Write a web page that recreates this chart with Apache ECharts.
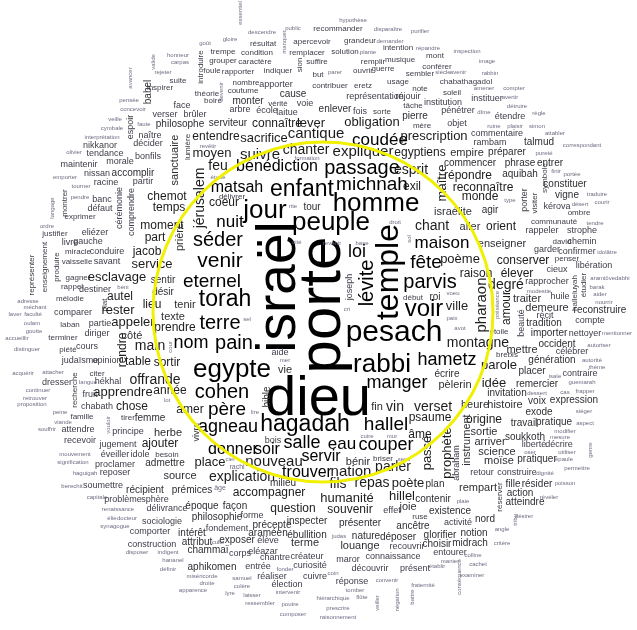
<!DOCTYPE html>
<html>
<head>
    <meta charset="UTF-8">
    <title>nuage de mots</title>
    <script src="https://cdn.jsdelivr.net/npm/echarts@6/dist/echarts.min.js"></script>
    <style>
        html, body { margin: 0; padding: 0; background: #fff; }
        #cloud { width: 637px; height: 630px; }
    </style>
</head>
<body>
<div id="cloud"></div>
<script type="text/javascript">
var centerWords = [
    ['israël', 280, 287, 55], ['porte', 323, 305, 60], ['dieu', 318, 400, 56],
    ['peuple', 331, 223, 26], ['homme', 376, 204, 26], ['jour', 265, 211, 26],
    ['enfant', 302, 190, 23], ['pesach', 394, 333, 30], ['temple', 389, 272, 32],
    ['rabbi', 382, 365, 26], ['egypte', 232, 370, 26], ['hagadah', 305, 425, 23],
    ['séder', 218, 240, 20], ['venir', 220, 261, 21], ['eternel', 212, 282, 19],
    ['torah', 225, 300, 23], ['terre', 220, 323, 20], ['nom', 191, 343, 18],
    ['pain', 234, 343, 20], ['cohen', 222, 392, 20], ['père', 227, 410, 19],
    ['nuit', 230, 222, 17], ['cité', 297, 242, 6], ['sel', 247, 319, 6],
    ['aide', 280, 353, 9], ['mer', 285, 360, 6], ['vie', 285, 370, 11],
    ['bible', 267, 397, 10], ['lire', 255, 412, 6], ['prière', 180, 237, 11],
    ['droit', 395, 222, 6], ['chant', 432, 226, 14], ['revenir', 332, 243, 6],
    ['base', 362, 243, 6], ['sol', 409, 239, 6], ['maison', 442, 243, 17],
    ['loi', 357, 252, 18], ['lévite', 367, 283, 20], ['joseph', 350, 287, 9],
    ['cri', 347, 309, 6], ['fête', 426, 263, 19], ['poème', 460, 259, 13],
    ['parvis', 430, 282, 20], ['début', 413, 298, 8], ['roi', 435, 297, 10],
    ['voeu', 453, 293, 6], ['voir', 424, 309, 24], ['ville', 457, 306, 13],
    ['paix', 452, 318, 6], ['avot', 460, 328, 6], ['hametz', 447, 360, 18],
    ['écrire', 447, 374, 10], ['manger', 397, 383, 18], ['pèlerin', 455, 385, 11],
    ['fin', 377, 407, 11], ['vin', 395, 407, 14], ['verset', 433, 407, 14],
    ['psaume', 430, 418, 12], ['hallel', 386, 425, 19]
];

var upperWords = [
    ['essentiel', 240, 13, 6], ['hypothèse', 353, 20, 6], ['descendre', 262, 32, 6],
    ['public', 293, 28, 6], ['recommander', 338, 29, 8], ['disparaître', 388, 29, 6],
    ['purifier', 420, 31, 6], ['gloire', 230, 39, 6], ['goût', 205, 43, 6],
    ['résultat', 263, 44, 8], ['manquer', 284, 42, 6], ['apercevoir', 312, 42, 8],
    ['grandeur', 360, 41, 8], ['demander', 390, 41, 6], ['honneur', 178, 55, 6],
    ['trempe', 223, 52, 8], ['condition', 257, 53, 8], ['remplacer', 307, 53, 8],
    ['solution', 345, 52, 8], ['plante', 368, 52, 6], ['intention', 398, 48, 8],
    ['répandre', 428, 48, 6], ['inspection', 467, 51, 6], ['carpas', 180, 62, 6],
    ['introduire', 201, 67, 8], ['grouper', 223, 61, 8], ['caractère', 255, 62, 8],
    ['sion', 300, 65, 8], ['suffire', 317, 62, 8], ['remplir', 373, 62, 8],
    ['musique', 400, 60, 8], ['mont', 435, 56, 8], ['conférer', 437, 67, 8],
    ['image', 487, 61, 6], ['rejeter', 163, 72, 6], ['foule', 212, 71, 8],
    ['rapporter', 238, 72, 8], ['indiquer', 278, 71, 8], ['but', 318, 75, 8],
    ['parer', 335, 72, 6], ['ouvrir', 363, 71, 8], ['guerre', 383, 69, 8],
    ['sembler', 420, 74, 8], ['siècle', 443, 72, 6], ['avenir', 458, 72, 6],
    ['rabbin', 490, 73, 6], ['suite', 178, 81, 8], ['nombre', 246, 83, 8],
    ['apporter', 276, 85, 9], ['contribuer', 330, 86, 8], ['eretz', 363, 86, 8],
    ['usage', 398, 82, 8], ['note', 420, 89, 8], ['chabathagadol', 466, 82, 8],
    ['compter', 514, 88, 6], ['amener', 484, 88, 6], ['inspirer', 160, 88, 8],
    ['théorie', 207, 94, 8], ['devenir', 221, 92, 6], ['coutume', 243, 91, 8],
    ['cause', 293, 94, 10], ['représentation', 375, 97, 9], ['réjouir', 408, 97, 9],
    ['soleil', 452, 93, 8], ['instituer', 487, 99, 9], ['avertir', 510, 97, 6],
    ['boire', 213, 101, 8], ['monter', 248, 101, 10], ['vérité', 278, 104, 8],
    ['voie', 305, 104, 9], ['institution', 443, 103, 9], ['détruire', 517, 106, 6],
    ['face', 182, 106, 9], ['arbre', 240, 110, 9], ['école', 267, 111, 9],
    ['laitue', 287, 113, 9], ['enlever', 335, 109, 10], ['fois', 360, 112, 9],
    ['sorte', 382, 112, 8], ['tâche', 413, 106, 8], ['pierre', 415, 116, 10],
    ['pénétrer', 458, 111, 9], ['dîme', 484, 112, 6], ['étendre', 510, 117, 9],
    ['règle', 539, 113, 6], ['verser', 165, 115, 9], ['brûler', 195, 115, 9],
    ['philosophe', 180, 124, 10], ['serviteur', 228, 123, 10], ['connaître', 277, 124, 12],
    ['lever', 311, 123, 13], ['obligation', 372, 122, 13], ['mère', 422, 126, 8],
    ['objet', 457, 124, 9], ['ruine', 494, 126, 6], ['plaisir', 515, 126, 6],
    ['simon', 537, 126, 6],
    ['sanctuaire', 175, 160, 11], ['lumière', 188, 147, 8], ['entendre', 216, 137, 12],
    ['sacrifice', 264, 138, 13], ['cantique', 316, 134, 15], ['revêtir', 208, 146, 6],
    ['moyen', 212, 153, 13], ['suivre', 260, 155, 15], ['chanter', 306, 150, 14],
    ['formation', 307, 158, 6], ['jérusalem', 200, 198, 14], ['feu', 218, 166, 14],
    ['bénédiction', 277, 167, 16], ['étude', 218, 177, 6], ['matsah', 237, 188, 16],
    ['délivrer', 232, 197, 8], ['coeur', 224, 203, 12], ['rite', 293, 206, 6],
    ['tour', 312, 207, 10], ['chemot', 167, 197, 12], ['temps', 169, 208, 12]
];

var upperRightWords = [
    ['coudée', 380, 140, 17], ['prescription', 434, 136, 13], ['expliquer', 363, 152, 15],
    ['egyptiens', 420, 153, 12], ['empire', 467, 153, 11], ['préparer', 507, 152, 10],
    ['commentaire', 497, 134, 9], ['rambam', 490, 143, 9], ['talmud', 539, 142, 10],
    ['attabler', 555, 133, 6], ['correspondant', 582, 145, 6], ['pureté', 544, 153, 6],
    ['passage', 362, 168, 20], ['esprit', 411, 170, 14], ['commencer', 470, 163, 10],
    ['phrase', 520, 163, 10], ['entrer', 550, 163, 10], ['michnah', 372, 185, 19],
    ['exil', 412, 187, 12], ['maître', 442, 183, 13], ['répondre', 468, 176, 12],
    ['aquibah', 520, 174, 10], ['symbole', 545, 178, 8], ['finir', 556, 171, 6],
    ['portée', 572, 174, 6], ['reconnaître', 483, 188, 12], ['constituer', 565, 184, 10],
    ['monde', 480, 197, 12], ['type', 510, 200, 6], ['porter', 525, 200, 9],
    ['visiter', 535, 203, 8], ['vigne', 567, 195, 10], ['traduire', 597, 194, 6],
    ['désert', 580, 204, 6], ['courir', 602, 202, 6], ['kérova', 557, 207, 9],
    ['israélite', 453, 212, 11], ['agir', 490, 210, 10]
];

var upperLeftWords = [
    ['avancer', 130, 78, 6], ['valide', 153, 62, 6], ['pensée', 129, 100, 6],
    ['babel', 148, 92, 10], ['concevoir', 133, 109, 6], ['espoir', 131, 127, 9],
    ['veille', 115, 119, 6], ['faute', 144, 124, 6], ['cymbale', 112, 128, 6],
    ['interprétation', 102, 137, 6], ['naître', 150, 136, 9], ['décider', 148, 144, 9],
    ['nikkanor', 100, 146, 9], ['olivier', 74, 152, 6], ['tendance', 105, 154, 9],
    ['bonfils', 148, 157, 9], ['morale', 120, 162, 9], ['maintenir', 79, 165, 9],
    ['emporter', 65, 177, 6], ['nissan', 97, 174, 9], ['accomplir', 133, 173, 10],
    ['partir', 143, 182, 9], ['racine', 106, 183, 9], ['tourner', 81, 186, 6],
    ['montrer', 65, 203, 8], ['pendre', 80, 197, 6], ['banc', 102, 200, 9],
    ['défaut', 100, 209, 9], ['cérémonie', 120, 208, 9], ['comprendre', 132, 212, 9],
    ['langage', 52, 208, 6]
];

var rightWords = [
    ['aller', 470, 227, 11], ['orient', 501, 227, 12], ['communauté', 554, 222, 8],
    ['ombre', 579, 213, 8], ['tendre', 595, 223, 6], ['rappeler', 542, 231, 9],
    ['strophe', 582, 231, 9], ['enseigner', 502, 244, 11], ['david', 562, 242, 8],
    ['chemin', 582, 242, 9], ['garder', 547, 250, 9], ['confirmer', 577, 252, 9],
    ['idolâtre', 607, 252, 6], ['conserver', 523, 261, 12], ['penser', 567, 259, 8],
    ['libération', 594, 266, 9], ['cieux', 557, 270, 9], ['élever', 517, 274, 12],
    ['raison', 476, 274, 12], ['degré', 506, 285, 14], ['rapprocher', 547, 282, 9],
    ['halleluyah', 575, 293, 8], ['étudier', 584, 285, 8], ['aramiôvedabhi', 610, 278, 6],
    ['barak', 597, 287, 6], ['aider', 600, 294, 6], ['modestie', 539, 291, 6],
    ['préséance', 497, 305, 6], ['amour', 507, 308, 12], ['traiter', 527, 299, 11],
    ['huile', 560, 297, 9], ['nourrir', 604, 302, 6], ['demeure', 547, 308, 11],
    ['reconstruire', 600, 310, 10], ['récit', 545, 316, 9], ['beauté', 522, 323, 9],
    ['tradition', 544, 323, 10], ['compte', 590, 321, 9], ['étoile', 499, 332, 8],
    ['importer', 549, 333, 10], ['nettoyer', 585, 334, 9], ['mentionner', 617, 333, 6],
    ['pharaon', 482, 305, 15], ['montagne', 478, 343, 14], ['mettre', 522, 350, 11],
    ['occident', 557, 344, 10], ['autoriser', 599, 345, 6], ['célébrer', 572, 352, 9],
    ['brebis', 507, 355, 8], ['génération', 552, 360, 10], ['autorité', 592, 360, 6],
    ['thème', 597, 367, 6], ['parole', 499, 365, 13], ['placer', 532, 371, 10],
    ['isaïe', 555, 376, 6], ['contraire', 580, 374, 9], ['guemarah', 582, 382, 6],
    ['idée', 494, 383, 13], ['remercier', 537, 384, 10], ['invitation', 507, 393, 10],
    ['dessert', 537, 393, 6], ['cas', 565, 392, 6], ['frapper', 585, 391, 6],
    ['voix', 537, 401, 10], ['expression', 574, 400, 10], ['heure', 475, 405, 11],
    ['histoire', 505, 405, 11], ['exode', 539, 412, 10], ['siéger', 584, 411, 6],
    ['origine', 484, 420, 12], ['travail', 524, 423, 10], ['pratique', 554, 422, 10],
    ['aspect', 585, 423, 6], ['sortie', 484, 432, 11], ['modifier', 565, 431, 6],
    ['soukkoth', 525, 437, 10], ['mesure', 560, 437, 6], ['arriver', 490, 442, 11],
    ['liberté', 534, 445, 9], ['décrire', 559, 445, 9], ['genre', 590, 450, 6],
    ['science', 497, 452, 11], ['oser', 530, 452, 6], ['utiliser', 567, 452, 6],
    ['moïse', 499, 461, 11], ['pratiquer', 537, 459, 10], ['épaule', 564, 459, 6],
    ['retour', 482, 473, 9], ['construire', 517, 473, 9], ['dignité', 545, 473, 6],
    ['permettre', 577, 468, 6], ['rempart', 478, 488, 11], ['fille', 513, 484, 10],
    ['résider', 537, 484, 10], ['poisson', 565, 483, 6], ['réserver', 500, 497, 8],
    ['action', 520, 493, 10], ['révéler', 549, 497, 6], ['atteindre', 525, 502, 10],
    ['nord', 485, 519, 10], ['tribu', 515, 520, 6], ['désirer', 524, 516, 6],
    ['angle', 502, 529, 6], ['notion', 474, 533, 10], ['midrach', 470, 543, 10],
    ['critère', 502, 543, 6], ['colline', 473, 555, 6], ['cachet', 478, 564, 6],
    ['examiner', 472, 575, 6]
];

var leftWords = [
    ['moment', 162, 226, 12], ['part', 155, 238, 12],
    ['exprimer', 80, 217, 8], ['ordre', 47, 226, 6], ['justifier', 55, 234, 8],
    ['eliézer', 95, 233, 9], ['livre', 70, 243, 9], ['gauche', 88, 242, 9],
    ['enseignement', 45, 267, 8], ['représenter', 32, 275, 8], ['produire', 57, 267, 8],
    ['miracle', 78, 252, 8], ['conduire', 107, 252, 9], ['jacob', 147, 252, 12],
    ['vaisselle', 77, 262, 8], ['savant', 107, 262, 9], ['service', 152, 264, 13],
    ['gagner', 78, 278, 8], ['esclavage', 117, 277, 13], ['sentir', 163, 280, 10],
    ['rappel', 72, 287, 8], ['destiner', 95, 290, 9], ['béni', 123, 287, 6],
    ['autel', 120, 297, 12], ['désir', 163, 292, 10], ['lieu', 152, 305, 12],
    ['tenir', 185, 305, 11], ['adresse', 28, 301, 6], ['mélodie', 70, 299, 8],
    ['plat', 105, 305, 8], ['méchant', 35, 307, 6], ['laver', 15, 314, 6],
    ['faculté', 33, 314, 6], ['comparer', 73, 313, 9], ['rester', 118, 310, 13],
    ['texte', 173, 317, 11], ['oulam', 32, 323, 6], ['goutte', 34, 331, 6],
    ['laban', 70, 325, 8], ['partie', 100, 324, 9], ['appeler', 133, 322, 13],
    ['prendre', 175, 328, 12], ['accueillir', 17, 338, 6], ['terminer', 63, 338, 8],
    ['diriger', 97, 334, 9], ['côté', 132, 336, 11], ['cour', 170, 347, 6],
    ['main', 150, 346, 14], ['rendre', 123, 350, 12], ['distinguer', 27, 349, 6],
    ['piété', 68, 350, 8], ['cours', 87, 347, 9], ['judaïsme', 80, 361, 9],
    ['opinion', 107, 361, 9], ['table', 138, 362, 12], ['sortir', 167, 363, 12],
    ['acquérir', 23, 373, 6], ['attacher', 53, 372, 6], ['recherche', 75, 390, 8],
    ['citer', 97, 374, 8], ['dresser', 57, 383, 9], ['langue', 88, 382, 6],
    ['hékhal', 108, 382, 9], ['offrande', 155, 380, 14], ['continuer', 38, 390, 6],
    ['fruit', 90, 395, 9], ['apprendre', 123, 392, 13], ['année', 170, 391, 12],
    ['retrouver', 35, 398, 6], ['proposition', 32, 404, 6], ['chabath', 97, 407, 9],
    ['chose', 132, 407, 12], ['lot', 167, 400, 6], ['amer', 190, 410, 12],
    ['peine', 60, 412, 6], ['famille', 82, 417, 8], ['tirer', 128, 418, 8],
    ['femme', 150, 418, 10]
];

var lowerWords = [
    ['viande', 63, 422, 6], ['souffrir', 47, 429, 6], ['attendre', 78, 430, 9],
    ['vouloir', 108, 425, 6], ['principe', 128, 432, 9], ['herbe', 168, 433, 11],
    ['vivre', 197, 432, 9], ['agneau', 228, 427, 18], ['recevoir', 80, 441, 9],
    ['jugement', 118, 445, 9], ['ajouter', 160, 444, 12], ['bois', 273, 441, 9],
    ['salle', 302, 443, 18], ['mouvement', 75, 454, 6], ['éveiller', 115, 455, 9],
    ['idole', 140, 455, 9], ['besoin', 167, 455, 8], ['donner', 233, 450, 16],
    ['soir', 267, 450, 16], ['signification', 73, 462, 6], ['proclamer', 115, 465, 9],
    ['admettre', 165, 463, 10], ['place', 210, 462, 13], ['ciel', 230, 459, 6],
    ['rachi', 237, 467, 7], ['nouveau', 274, 462, 15], ['haguigah', 85, 473, 6],
    ['reposer', 115, 473, 9], ['source', 180, 476, 11], ['explication', 242, 477, 14],
    ['trouver', 307, 473, 16], ['milieu', 283, 483, 10], ['berechit', 72, 486, 6],
    ['soumettre', 103, 486, 9], ['récipient', 145, 490, 10], ['prémices', 192, 490, 10],
    ['âge', 220, 488, 7], ['accompagner', 269, 493, 12], ['capitale', 97, 497, 6],
    ['problème', 123, 500, 9], ['sphère', 155, 500, 9], ['renaissance', 118, 509, 6],
    ['délivrance', 167, 509, 9], ['époque', 202, 506, 10], ['façon', 235, 506, 10],
    ['question', 293, 509, 12], ['élie', 112, 518, 6], ['docteur', 127, 518, 6],
    ['synagogue', 115, 526, 6], ['sociologie', 162, 522, 9], ['philosophie', 217, 517, 10],
    ['forme', 252, 516, 9], ['précepte', 272, 525, 10], ['inspecter', 307, 521, 10],
    ['comporter', 150, 532, 9], ['intérêt', 192, 533, 10], ['fondement', 227, 529, 9],
    ['araméen', 268, 533, 10], ['ébullition', 307, 535, 10], ['construction', 152, 545, 9],
    ['attribut', 197, 542, 10], ['culte', 218, 542, 6], ['exposer', 237, 540, 10],
    ['élève', 268, 541, 9], ['terme', 305, 543, 11], ['disposer', 137, 552, 6],
    ['indigent', 168, 552, 6], ['chammaï', 208, 550, 10], ['corps', 240, 554, 9],
    ['eléazar', 263, 552, 9], ['chantre', 275, 558, 9], ['créateur', 307, 557, 9],
    ['hananel', 173, 560, 6], ['aphikomen', 212, 567, 10], ['entrée', 258, 567, 9],
    ['fonder', 285, 569, 6], ['curiosité', 310, 566, 9], ['définir', 168, 569, 6],
    ['miséricorde', 202, 576, 6], ['samuel', 242, 578, 6], ['réaliser', 272, 577, 9],
    ['cuivre', 315, 577, 9], ['droite', 207, 583, 6], ['colère', 242, 586, 6],
    ['élection', 287, 585, 9], ['apparence', 193, 590, 6], ['lyre', 230, 593, 6],
    ['intervenir', 288, 592, 6], ['laisser', 252, 595, 6], ['ressembler', 260, 603, 6],
    ['poutre', 290, 604, 6], ['composer', 293, 614, 6],
    ['cuire', 367, 436, 6], ['mur', 392, 436, 6], ['âme', 420, 435, 12],
    ['prophète', 447, 453, 13], ['instrument', 467, 440, 11], ['passé', 427, 453, 13],
    ['abraham', 457, 463, 9], ['eau', 342, 444, 17], ['couper', 386, 445, 18],
    ['servir', 321, 457, 16], ['bénir', 358, 462, 11], ['briser', 383, 459, 8],
    ['seuil', 404, 459, 6], ['nation', 351, 472, 15], ['parler', 393, 467, 14],
    ['fils', 338, 484, 14], ['repas', 372, 483, 14], ['poète', 408, 483, 13],
    ['plan', 435, 484, 10], ['humanité', 347, 498, 13], ['hillel', 402, 496, 13],
    ['contenir', 433, 499, 10], ['plaie', 463, 501, 6], ['souvenir', 350, 510, 12],
    ['effet', 392, 511, 9], ['joie', 408, 507, 11], ['ruse', 420, 517, 8],
    ['existence', 450, 511, 10], ['présenter', 360, 523, 10], ['ancêtre', 413, 526, 10],
    ['activité', 458, 523, 9], ['judas', 339, 536, 6], ['nature', 366, 536, 10],
    ['déposer', 398, 537, 10], ['glorifier', 440, 535, 10], ['choisir', 437, 544, 10],
    ['louange', 360, 546, 11], ['recouvrir', 407, 547, 9], ['entourer', 450, 553, 9],
    ['maror', 348, 560, 9], ['connaissance', 393, 557, 9], ['manier', 450, 561, 6],
    ['découvrir', 370, 569, 9], ['présent', 415, 569, 9], ['établir', 437, 566, 6],
    ['conséquence', 459, 577, 6], ['coin', 333, 573, 6], ['réponse', 352, 582, 9],
    ['convenir', 387, 580, 6], ['fraternité', 423, 585, 6], ['tomber', 355, 590, 6],
    ['flûte', 362, 597, 6], ['hiérarchique', 333, 598, 6], ['veiller', 377, 603, 6],
    ['négation', 397, 600, 6], ['battre', 412, 597, 6], ['prescrire', 338, 608, 6],
    ['raisonnement', 338, 617, 6]
];

// mots écrits de bas en haut
var verticalWords = [
    'israël', 'porte', 'temple', 'lévite', 'joseph', 'bible', 'prière', 'sol',
    'essentiel', 'manquer', 'introduire', 'sion', 'devenir', 'sanctuaire', 'lumière',
    'jérusalem', 'maître', 'symbole', 'porter', 'visiter', 'avancer', 'valide',
    'babel', 'espoir', 'montrer', 'cérémonie', 'comprendre', 'langage',
    'halleluyah', 'étudier', 'préséance', 'amour', 'beauté', 'pharaon', 'genre',
    'réserver', 'tribu', 'enseignement', 'représenter', 'produire', 'plat', 'cour',
    'rendre', 'recherche', 'vouloir', 'vivre', 'prophète', 'instrument', 'passé',
    'abraham', 'conséquence', 'veiller', 'négation', 'battre'
];

var allWords = [].concat(centerWords, upperWords, upperRightWords, upperLeftWords,
    rightWords, leftWords, lowerWords);

function wordColor(size) {
    if (size >= 16) return '#000000';
    if (size >= 12) return '#1c1c1c';
    if (size >= 10) return '#2e2e34';
    if (size >= 8) return '#3c3c48';
    return '#6e6c82';
}

var chart = echarts.init(document.getElementById('cloud'), null, { renderer: 'canvas' });

var option = {
    backgroundColor: '#ffffff',
    animation: false,
    grid: { left: 0, right: 0, top: 0, bottom: 0 },
    xAxis: { type: 'value', min: 0, max: 637, show: false },
    yAxis: { type: 'value', min: 0, max: 630, inverse: true, show: false },
    series: [{
        type: 'custom',
        clip: false,
        data: allWords.map(function (w) {
            return [w[1], w[2], w[3], verticalWords.indexOf(w[0]) >= 0 ? 1 : 0];
        }),
        renderItem: function (params, api) {
            var pt = api.coord([api.value(0), api.value(1)]);
            var size = api.value(2);
            return {
                type: 'text',
                x: pt[0],
                y: pt[1],
                rotation: api.value(3) ? Math.PI / 2 : 0,
                style: {
                    text: allWords[params.dataIndex][0],
                    fontSize: size,
                    fontFamily: '"Liberation Sans", Arial, sans-serif',
                    fill: wordColor(size),
                    align: 'center',
                    verticalAlign: 'middle'
                }
            };
        }
    }],
    graphic: [{
        type: 'ellipse',
        shape: { cx: 323, cy: 312, rx: 170, ry: 170 },
        style: { fill: 'none', stroke: '#f0f000', lineWidth: 3 },
        z: 100
    }]
};

chart.setOption(option);
</script>
</body>
</html>
